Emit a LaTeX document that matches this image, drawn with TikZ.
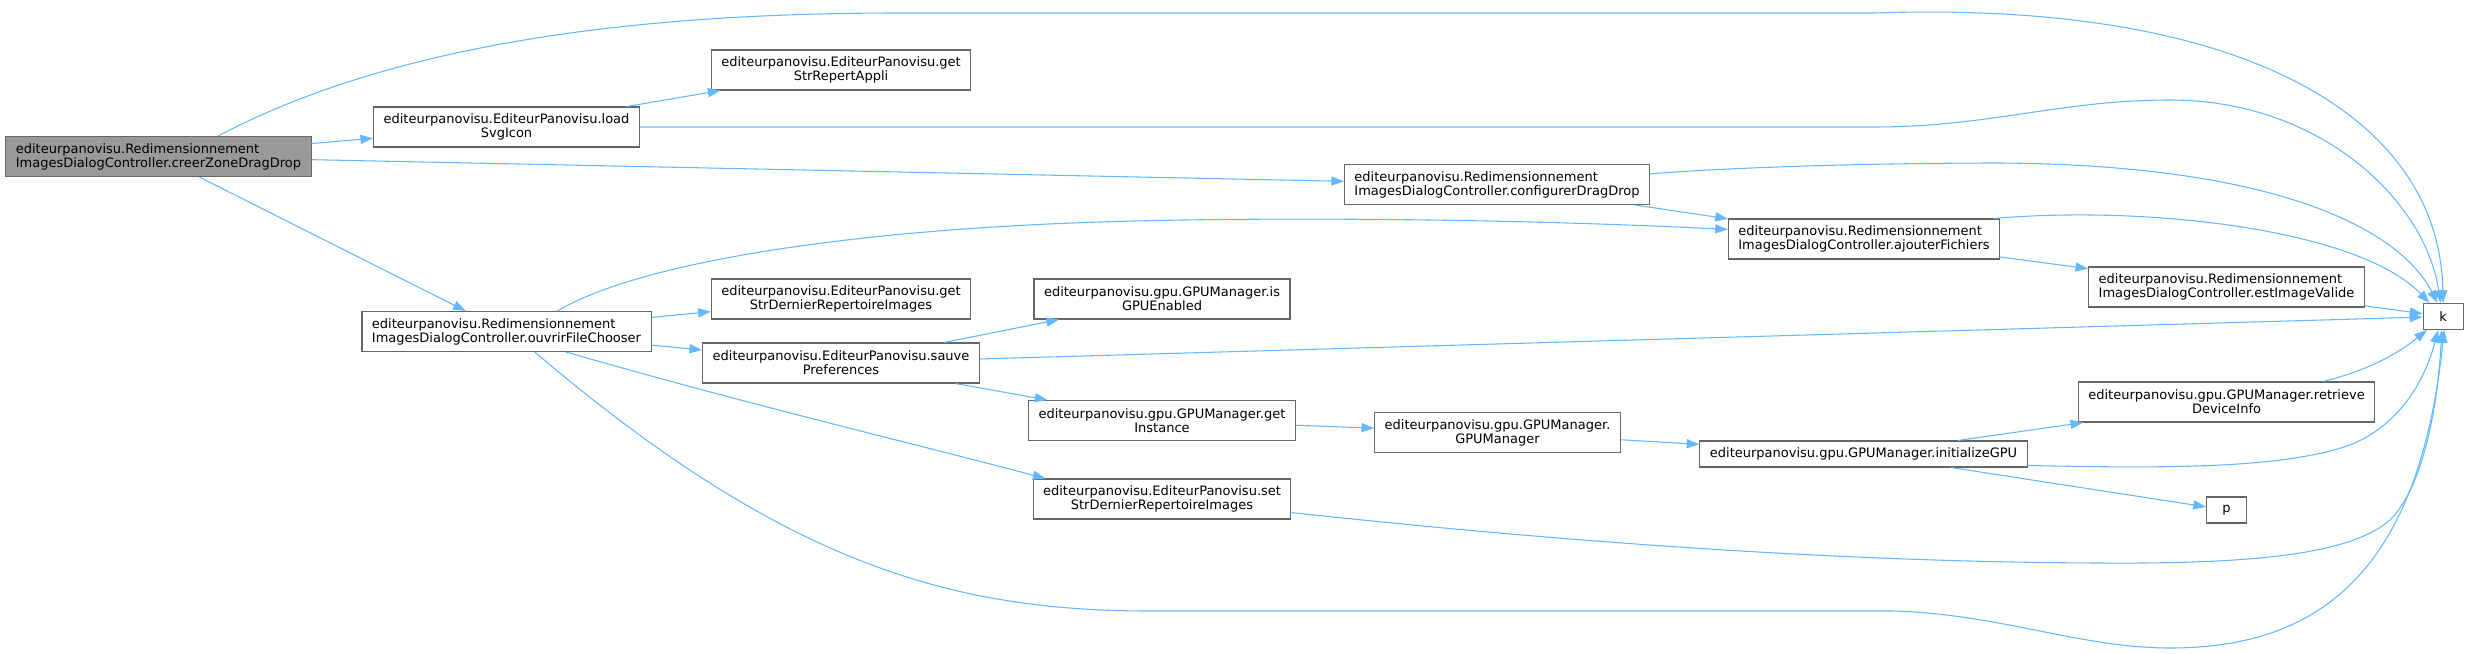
\documentclass[tikz,border=0pt]{standalone}
\usepackage{fontspec}
\setmainfont{DejaVu Sans}
\usetikzlibrary{arrows.meta}
\definecolor{callblue}{HTML}{63B8FF}
\definecolor{boxgray}{HTML}{666666}
\definecolor{rootgray}{HTML}{999999}

\begin{document}
\begin{tikzpicture}[
  x=0.75pt, y=-0.75pt,
  fn/.style={rectangle, draw=boxgray, line width=0.8pt, fill=white, inner xsep=7.5pt, inner ysep=2pt, minimum height=30pt, align=center, font=\fontsize{9.75}{10.5}\selectfont},
  fnl/.style={fn, align=left},
  leaf/.style={fn, minimum height=19.5pt, minimum width=30pt},
  call/.style={->, draw=callblue, line width=0.8pt},
  >={Triangle[length=9.5pt, width=6.8pt]}
]
  \useasboundingbox (0,0) rectangle (2468,653);
  % Functions
  \node[fnl, fill=rootgray] (creer) at (158.5,156.5) {editeurpanovisu.Redimensionnement\\ImagesDialogController.creerZoneDragDrop};
  \node[fn] (load) at (506.5,127) {editeurpanovisu.EditeurPanovisu.load\\SvgIcon};
  \node[fnl] (ouvrir) at (506.5,331.5) {editeurpanovisu.Redimensionnement\\ImagesDialogController.ouvrirFileChooser};
  \node[fn] (repert) at (841,70) {editeurpanovisu.EditeurPanovisu.get\\StrRepertAppli};
  \node[fn] (getdern) at (841,299) {editeurpanovisu.EditeurPanovisu.get\\StrDernierRepertoireImages};
  \node[fn] (sauve) at (841,363) {editeurpanovisu.EditeurPanovisu.sauve\\Preferences};
  \node[fn] (isgpu) at (1162,299) {editeurpanovisu.gpu.GPUManager.is\\GPUEnabled};
  \node[fn] (getinst) at (1162,420.5) {editeurpanovisu.gpu.GPUManager.get\\Instance};
  \node[fn] (setdern) at (1162,499) {editeurpanovisu.EditeurPanovisu.set\\StrDernierRepertoireImages};
  \node[fnl] (config) at (1497,184.5) {editeurpanovisu.Redimensionnement\\ImagesDialogController.configurerDragDrop};
  \node[fn] (gpuman) at (1497.5,432.5) {editeurpanovisu.gpu.GPUManager.\\GPUManager};
  \node[fnl] (ajouter) at (1864,239) {editeurpanovisu.Redimensionnement\\ImagesDialogController.ajouterFichiers};
  \node[leaf] (initgpu) at (1863.5,454) {editeurpanovisu.gpu.GPUManager.initializeGPU};
  \node[fnl] (estimg) at (2226.5,287) {editeurpanovisu.Redimensionnement\\ImagesDialogController.estImageValide};
  \node[fn] (retrieve) at (2226.5,402) {editeurpanovisu.gpu.GPUManager.retrieve\\DeviceInfo};
  \node[leaf] (p) at (2226.5,510) {p};
  \node[leaf] (k) at (2443,316.5) {k};
  % Straight calls
  \draw[call] (creer) -- (load);
  \draw[call] (creer) -- (config);
  \draw[call] (creer) -- (ouvrir);
  \draw[call] (load) -- (repert);
  \draw[call] (config) -- (ajouter);
  \draw[call] (ajouter) -- (estimg);
  \draw[call] (estimg) -- (k);
  \draw[call] (ouvrir) -- (getdern);
  \draw[call] (ouvrir) -- (sauve);
  \draw[call] (sauve) -- (isgpu);
  \draw[call] (sauve) -- (getinst);
  \draw[call] (sauve) -- (k);
  \draw[call] (getinst) -- (gpuman);
  \draw[call] (gpuman) -- (initgpu);
  \draw[call] (initgpu) -- (retrieve);
  \draw[call] (initgpu) -- (p);
  % Curved calls
  \draw[call] (creer.19) .. controls (400,40) and (650,13) .. (900,13) -- (1874,13) .. controls (2250,0) and (2440,120) .. (k.north);
  \draw[call] (load.east) -- (1874,127) .. controls (1990,127) and (2060,100) .. (2170,100) .. controls (2320,100) and (2425,200) .. (k.100);
  \draw[call] (config.4) .. controls (1750,166) and (1900,163) .. (2000,163) .. controls (2280,165) and (2400,230) .. (k.112);
  \draw[call] (ajouter.9) .. controls (2150,205) and (2360,230) .. (k.135);
  \draw[call] (ouvrir.22) .. controls (640,262) and (850,230) .. (1100,222) .. controls (1250,217) and (1500,218) .. (ajouter.176);
  \draw[call] (ouvrir.-19) .. controls (750,405) and (900,440) .. (setdern.170);
  \draw[call] (ouvrir.-36) .. controls (783,563) and (950,611) .. (1150,611) -- (1893,611) .. controls (2000,614) and (2080,648) .. (2170,648) .. controls (2330,648) and (2420,560) .. (k.275);
  \draw[call] (retrieve.12) .. controls (2370,370) and (2400,352) .. (k.220);
  \draw[call] (initgpu.-4) .. controls (2150,468) and (2280,470) .. (2350,445) .. controls (2400,425) and (2425,380) .. (k.250);
  \draw[call] (setdern.-6) .. controls (1500,535) and (1800,562) .. (2100,563) .. controls (2250,564) and (2350,555) .. (2390,520) .. controls (2425,485) and (2438,400) .. (k.265);
\end{tikzpicture}
\end{document}
